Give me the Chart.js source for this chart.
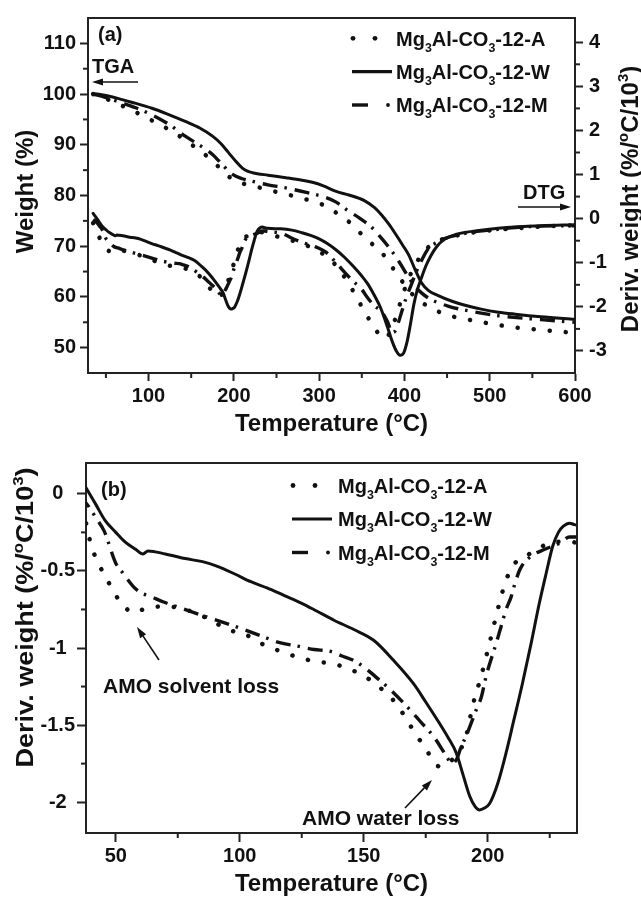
<!DOCTYPE html>
<html><head><meta charset="utf-8">
<script src="https://cdn.jsdelivr.net/npm/chart.js@4.4.1/dist/chart.umd.min.js"></script>
<style>
html,body{margin:0;padding:0;background:#fff;width:641px;height:899px;overflow:hidden}
.box{position:absolute;left:0;width:641px}
</style></head><body>
<div class="box" style="top:0;height:440px"><canvas id="chartA"></canvas></div>
<div class="box" style="top:440px;height:459px"><canvas id="chartB"></canvas></div>
<script>
// ---------------- DATA ----------------
const seriesNames = ['Mg3Al-CO3-12-A', 'Mg3Al-CO3-12-W', 'Mg3Al-CO3-12-M'];

// TGA weight (%) vs temperature (°C)
const tgaA = [[35,100],[50,99.1],[65,98],[84,96.5],[105,94.7],[128,92.6],[150,90.1],[171,87.4],[185,85.2],[196,83.5],[210,82.4],[229,81.6],[250,80.7],[277,79.6],[295,78.7],[308,77.9],[320,76.6],[335,74.8],[349,72.5],[363,70.3],[377,68.0],[386,65.8],[396,63.4],[405,61.3],[416,59.5],[428,58.1],[443,56.9],[460,56.0],[482,55.3],[505,54.6],[529,54.0],[560,53.5],[600,52.9]];
const tgaW = [[35,100.1],[40,100],[50,99.7],[65,99.1],[80,98.4],[104,97.2],[120,96.2],[143,94.6],[160,93.3],[175,91.7],[185,90.2],[194,88.4],[202,86.8],[210,85.4],[216,84.8],[222,84.5],[240,84.0],[261,83.5],[280,83.0],[292,82.6],[305,81.9],[320,80.8],[335,80.1],[353,79.0],[365,77.6],[373,76.2],[382,74.3],[390,72.3],[398,70.2],[405,68.3],[412,65.6],[420,62.8],[428,61.3],[439,60.3],[455,59.2],[470,58.4],[490,57.6],[510,57.0],[530,56.6],[560,56.1],[600,55.6]];
const tgaM = [[35,100],[50,99.3],[70,98.2],[85,97.3],[104,95.9],[125,93.9],[143,91.7],[160,89.9],[175,88.1],[188,85.8],[198,84.2],[210,83.3],[222,82.8],[240,82.1],[261,81.5],[285,80.6],[308,79.6],[320,78.7],[333,77.1],[347,75.6],[361,73.8],[373,71.6],[384,69.3],[395,66.6],[404,64.1],[412,62.2],[420,60.8],[430,59.6],[451,58.2],[480,57.1],[510,56.3],[540,55.8],[570,55.4],[600,55.0]];

// DTG deriv. weight (%/°C/10^3) vs temperature (°C)
const dtgA = [[35,-0.1],[38,-0.19],[40,-0.33],[43.3,-0.46],[47.3,-0.58],[51.3,-0.69],[54,-0.74],[56.7,-0.77],[60,-0.755],[63,-0.74],[70,-0.73],[78,-0.75],[83,-0.78],[88.5,-0.82],[95,-0.88],[102,-0.91],[108.5,-0.97],[118,-1.03],[124.6,-1.065],[131.3,-1.09],[137.3,-1.10],[143,-1.13],[150,-1.18],[156,-1.25],[162,-1.34],[166,-1.43],[170.6,-1.55],[175.3,-1.66],[178.6,-1.75],[181,-1.77],[184,-1.75],[187,-1.7],[189.3,-1.65],[191.3,-1.57],[194,-1.37],[197.4,-1.18],[200.7,-0.97],[204.7,-0.71],[207.4,-0.56],[211.5,-0.44],[216.8,-0.39],[222,-0.34],[228,-0.31],[233,-0.31],[238,-0.33],[250,-0.40],[265,-0.48],[280,-0.56],[296,-0.71],[312,-0.9],[322,-1.12],[333,-1.42],[343,-1.75],[353,-2.1],[365,-2.48],[372,-2.66],[377,-2.72],[382,-2.62],[387,-2.4],[392,-2.1],[397,-1.8],[403,-1.45],[410,-1.15],[420,-0.82],[431,-0.6],[447,-0.45],[462,-0.38],[485,-0.3],[510,-0.25],[530,-0.22],[560,-0.18],[600,-0.15]];
const dtgW = [[35,0.12],[38,0.04],[42,-0.07],[45.6,-0.17],[50,-0.25],[53.6,-0.31],[58,-0.36],[61,-0.39],[63,-0.37],[70,-0.39],[78,-0.42],[85,-0.44],[91,-0.47],[98,-0.52],[104.5,-0.57],[111,-0.61],[118,-0.66],[125,-0.71],[131,-0.76],[138,-0.82],[146,-0.88],[154,-0.95],[162,-1.08],[170,-1.23],[175,-1.35],[180.6,-1.49],[184,-1.58],[187.3,-1.68],[190,-1.82],[192.7,-1.96],[195,-2.03],[196.7,-2.05],[198.5,-2.04],[200.7,-2.01],[204,-1.88],[207.4,-1.68],[210.5,-1.47],[214,-1.23],[217.5,-0.97],[220.8,-0.71],[223.5,-0.52],[226.2,-0.34],[228.5,-0.25],[230.5,-0.21],[233,-0.19],[235,-0.2],[240,-0.22],[255,-0.23],[268,-0.26],[280,-0.32],[290,-0.38],[300,-0.46],[310,-0.57],[320,-0.71],[330,-0.88],[340,-1.08],[350,-1.3],[357,-1.48],[365,-1.75],[372,-2.02],[380,-2.45],[386,-2.8],[391,-3.02],[395,-3.1],[399,-3.05],[403,-2.8],[407,-2.4],[411,-1.95],[415,-1.62],[420,-1.34],[425,-1.08],[431,-0.84],[438,-0.63],[447,-0.47],[460,-0.36],[475,-0.3],[490,-0.26],[510,-0.22],[530,-0.19],[560,-0.16],[600,-0.14]];
const dtgM = [[35,-0.02],[38,-0.06],[42.6,-0.17],[45.3,-0.24],[50,-0.45],[52.7,-0.51],[57,-0.6],[60,-0.64],[64,-0.665],[69,-0.70],[76,-0.74],[87,-0.8],[100,-0.87],[110,-0.93],[115,-0.96],[124,-0.99],[130,-1.01],[136,-1.02],[141,-1.05],[147,-1.09],[156.5,-1.21],[162,-1.29],[168.6,-1.4],[173,-1.48],[178,-1.57],[183.3,-1.70],[185.5,-1.75],[187.5,-1.72],[189.3,-1.64],[191.3,-1.57],[195.4,-1.40],[197.4,-1.32],[199.4,-1.18],[203.4,-0.97],[205.4,-0.86],[207.4,-0.75],[209.4,-0.67],[211,-0.58],[213,-0.49],[217,-0.41],[223,-0.36],[229,-0.32],[233,-0.28],[236,-0.28],[240,-0.29],[257,-0.34],[269,-0.45],[282,-0.55],[296,-0.64],[308,-0.76],[320,-1.0],[331,-1.24],[340,-1.42],[349,-1.58],[357,-1.8],[365,-1.98],[373,-2.1],[380,-2.33],[386,-2.58],[389,-2.55],[393,-2.35],[397,-2.1],[402,-1.8],[408,-1.5],[414,-1.2],[420,-0.95],[428,-0.68],[437,-0.55],[447,-0.45],[462,-0.37],[485,-0.29],[510,-0.24],[530,-0.2],[560,-0.17],[600,-0.16]];

// tick values
const tempTicksA = [100, 200, 300, 400, 500, 600];
const tempMinorA = [50, 150, 250, 350, 450, 550];
const weightTicks = [50, 60, 70, 80, 90, 100, 110];
const weightMinor = [55, 65, 75, 85, 95, 105];
const derivTicksA = [-3, -2, -1, 0, 1, 2, 3, 4];
const derivMinorA = [-2.5, -1.5, -0.5, 0.5, 1.5, 2.5, 3.5];
const tempTicksB = [50, 100, 150, 200];
const tempMinorB = [75, 125, 175, 225];
const derivTicksB = [-2, -1.5, -1, -0.5, 0];
const derivMinorB = [-1.75, -1.25, -0.75, -0.25];

// ---------------- STYLE ----------------
const FONT = '"Liberation Sans", Arial, Helvetica, sans-serif';
const INK = '#111';
Chart.defaults.font.family = FONT;
Chart.defaults.color = INK;

const lineStyles = [
  {borderDash: [0.1, 16], borderWidth: 4.5, borderCapStyle: 'round'},    // A dotted
  {borderDash: [], borderWidth: 3, borderCapStyle: 'round'},             // W solid
  {borderDash: [15, 7, 2.5, 8], borderWidth: 3.4, borderCapStyle: 'butt'} // M dash-dot
];

function ds(arr, idx, axis) {
  return Object.assign({
    label: seriesNames[idx],
    data: arr.map(p => ({x: p[0], y: p[1]})),
    borderColor: INK, backgroundColor: INK,
    pointRadius: 0, fill: false,
    cubicInterpolationMode: 'monotone',
    yAxisID: axis
  }, lineStyles[idx]);
}

function setTicks(vals) { return s => { s.ticks = vals.map(v => ({value: v})); }; }
const tickFont = {size: 20, weight: 'bold'};
function axisGrid(len) { return {drawOnChartArea: false, drawTicks: true, tickLength: len, tickWidth: 2, tickColor: '#222'}; }
const axisBorder = {color: '#222', width: 2};

// ---------------- DRAW HELPERS ----------------
function richSegs(str) {
  const segs = [];
  for (let i = 0; i < str.length; i++) {
    const ch = str[i];
    const sub = /\d/.test(ch) && i > 0 && /[gO]/.test(str[i - 1]);
    const last = segs[segs.length - 1];
    if (last && !!last.sub === sub) last.t += ch; else segs.push({t: ch, sub});
  }
  return segs;
}
function segFont(s, size) { return `bold ${(s.sub || s.sup) ? size * 0.62 : size}px ${FONT}`; }
function richWidth(ctx, segs, size) {
  let w = 0;
  for (const s of segs) { ctx.font = segFont(s, size); w += ctx.measureText(s.t).width; }
  return w;
}
function drawRich(ctx, segs, x, y, size) {
  let cx = x;
  ctx.textAlign = 'left'; ctx.textBaseline = 'alphabetic';
  for (const s of segs) {
    ctx.font = segFont(s, size);
    const dy = s.sub ? size * 0.3 : s.sup ? -size * 0.42 : 0;
    ctx.fillText(s.t, cx, y + dy);
    cx += ctx.measureText(s.t).width;
  }
}
function drawVertTitle(ctx, segs, cx, cy, size, len) {
  const w = richWidth(ctx, segs, size);
  const k = len ? len / w : 1;
  ctx.save();
  ctx.translate(cx, cy);
  ctx.rotate(-Math.PI / 2);
  ctx.scale(k, 1);
  drawRich(ctx, segs, -w / 2, size * 0.36, size);
  ctx.restore();
}
function seg(ctx, x1, y1, x2, y2) { ctx.beginPath(); ctx.moveTo(x1, y1); ctx.lineTo(x2, y2); ctx.stroke(); }
function arrow(ctx, x1, y1, x2, y2) {
  ctx.save();
  ctx.lineWidth = 1.6; ctx.strokeStyle = INK; ctx.fillStyle = INK; ctx.setLineDash([]);
  const a = Math.atan2(y2 - y1, x2 - x1), L = 11, H = 3.6;
  const bx = x2 - L * Math.cos(a), by = y2 - L * Math.sin(a);
  seg(ctx, x1, y1, bx, by);
  ctx.beginPath();
  ctx.moveTo(x2, y2);
  ctx.lineTo(bx + H * Math.sin(a), by - H * Math.cos(a));
  ctx.lineTo(bx - H * Math.sin(a), by + H * Math.cos(a));
  ctx.closePath(); ctx.fill();
  ctx.restore();
}
function minorTicks(ctx, scale, vals, side, ca) {
  for (const v of vals) {
    const p = scale.getPixelForValue(v);
    if (side === 'bottom') seg(ctx, p, ca.bottom, p, ca.bottom + 5);
    else if (side === 'left') seg(ctx, ca.left, p, ca.left - 5, p);
    else seg(ctx, ca.right, p, ca.right + 5, p);
  }
}
function legendSample(ctx, idx, x0, y) {
  ctx.save(); ctx.strokeStyle = INK; ctx.fillStyle = INK;
  if (idx === 0) {
    for (const dx of [1, 23]) { ctx.beginPath(); ctx.arc(x0 + dx, y, 2.4, 0, Math.PI * 2); ctx.fill(); }
  } else if (idx === 1) {
    ctx.lineWidth = 3.2; seg(ctx, x0, y, x0 + 40, y);
  } else {
    ctx.lineWidth = 3.4; seg(ctx, x0, y, x0 + 16, y);
    ctx.beginPath(); ctx.arc(x0 + 36, y, 1.9, 0, Math.PI * 2); ctx.fill();
  }
  ctx.restore();
}
function drawLegend(ctx, x0, textX, rows) {
  rows.forEach((y, i) => {
    legendSample(ctx, i, x0, y);
    ctx.fillStyle = INK;
    drawRich(ctx, richSegs(seriesNames[i]), textX, y + 7.2, 20);
  });
}
function label(ctx, txt, x, yc, size) {
  ctx.fillStyle = INK; ctx.font = `bold ${size}px ${FONT}`;
  ctx.textAlign = 'left'; ctx.textBaseline = 'alphabetic';
  ctx.fillText(txt, x, yc + size * 0.36);
}
const derivTitle = [{t: 'Deriv. weight (%/'}, {t: 'o', sup: true}, {t: 'C/10'}, {t: '3', sup: true}, {t: ')'}];
const weightTitle = [{t: 'Weight (%)'}];

// ---------------- CHART (a) ----------------
const decorA = {
  id: 'decorA',
  afterDraw(chart) {
    const ctx = chart.ctx, ca = chart.chartArea, s = chart.scales;
    ctx.save();
    ctx.strokeStyle = '#222'; ctx.lineWidth = 2;
    seg(ctx, ca.left - 1, ca.top, ca.right + 1, ca.top);
    minorTicks(ctx, s.x, tempMinorA, 'bottom', ca);
    minorTicks(ctx, s.y, weightMinor, 'left', ca);
    minorTicks(ctx, s.y2, derivMinorA, 'right', ca);
    ctx.fillStyle = INK;
    drawVertTitle(ctx, weightTitle, 24, 191.5, 24, 0);
    drawVertTitle(ctx, derivTitle, 629, 199, 24, 0);
    drawLegend(ctx, 352, 396, [38.3, 71.7, 105]);
    label(ctx, '(a)', 98, 33.5, 20);
    label(ctx, 'TGA', 92, 66, 20);
    arrow(ctx, 138, 82, 92, 82);
    label(ctx, 'DTG', 523, 191.5, 20);
    arrow(ctx, 518, 207, 571, 207);
    ctx.restore();
  }
};

new Chart(document.getElementById('chartA'), {
  type: 'line',
  data: {datasets: [ds(tgaA, 0, 'y'), ds(tgaW, 1, 'y'), ds(tgaM, 2, 'y'), ds(dtgA, 0, 'y2'), ds(dtgW, 1, 'y2'), ds(dtgM, 2, 'y2')]},
  options: {
    responsive: true, maintainAspectRatio: false, animation: false, devicePixelRatio: 1,
    layout: {padding: {top: 15, left: 0, right: 0, bottom: 0}},
    plugins: {legend: {display: false}, tooltip: {enabled: false}},
    scales: {
      x: {type: 'linear', position: 'bottom', min: 29, max: 600,
        afterBuildTicks: setTicks(tempTicksA), afterFit: s => { s.height = 67; },
        ticks: {font: tickFont, color: INK, padding: 3, maxRotation: 0, autoSkip: false, callback: v => String(v)},
        grid: axisGrid(8), border: axisBorder,
        title: {display: true, text: 'Temperature (°C)', font: {size: 24, weight: 'bold'}, color: INK, padding: {top: 0, bottom: 1}}},
      y: {type: 'linear', position: 'left', min: 45, max: 115,
        afterBuildTicks: setTicks(weightTicks), afterFit: s => { s.width = 88; },
        ticks: {font: tickFont, color: INK, padding: 4, autoSkip: false, callback: v => String(v)},
        grid: axisGrid(8), border: axisBorder},
      y2: {type: 'linear', position: 'right', min: -3.5, max: 4.55,
        afterBuildTicks: setTicks(derivTicksA), afterFit: s => { s.width = 66; },
        ticks: {font: tickFont, color: INK, padding: 6, autoSkip: false, callback: v => String(v)},
        grid: axisGrid(8), border: axisBorder}
    }
  },
  plugins: [decorA]
});

// ---------------- CHART (b) ----------------
const decorB = {
  id: 'decorB',
  afterDraw(chart) {
    const ctx = chart.ctx, ca = chart.chartArea, s = chart.scales;
    ctx.save();
    ctx.strokeStyle = '#222'; ctx.lineWidth = 2;
    seg(ctx, ca.left - 1, ca.top, ca.right + 1, ca.top);
    seg(ctx, ca.right, ca.top - 1, ca.right, ca.bottom + 1);
    minorTicks(ctx, s.x, tempMinorB, 'bottom', ca);
    minorTicks(ctx, s.y, derivMinorB, 'left', ca);
    ctx.fillStyle = INK;
    drawVertTitle(ctx, derivTitle, 24, 177.5, 24, 300);
    drawLegend(ctx, 292, 338, [45.5, 79, 112.5]);
    label(ctx, '(b)', 101, 48.5, 20);
    label(ctx, 'AMO solvent loss', 103, 245.5, 21);
    arrow(ctx, 159, 220, 137, 187);
    label(ctx, 'AMO water loss', 302, 377, 21);
    arrow(ctx, 405, 368, 432, 340);
    ctx.restore();
  }
};

new Chart(document.getElementById('chartB'), {
  type: 'line',
  data: {datasets: [ds(dtgA, 0, 'y'), ds(dtgW, 1, 'y'), ds(dtgM, 2, 'y')]},
  options: {
    responsive: true, maintainAspectRatio: false, animation: false, devicePixelRatio: 1,
    layout: {padding: {top: 23, left: 0, right: 64, bottom: 0}},
    plugins: {legend: {display: false}, tooltip: {enabled: false}},
    scales: {
      x: {type: 'linear', position: 'bottom', min: 38, max: 236,
        afterBuildTicks: setTicks(tempTicksB), afterFit: s => { s.height = 66; },
        ticks: {font: tickFont, color: INK, padding: 2, maxRotation: 0, autoSkip: false, callback: v => String(v)},
        grid: axisGrid(9), border: axisBorder,
        title: {display: true, text: 'Temperature (°C)', font: {size: 24, weight: 'bold'}, color: INK, padding: {top: 0, bottom: 0}}},
      y: {type: 'linear', position: 'left', min: -2.2, max: 0.2,
        afterBuildTicks: setTicks(derivTicksB), afterFit: s => { s.width = 86; },
        ticks: {font: tickFont, color: INK, padding: 2, crossAlign: 'center', autoSkip: false, callback: v => String(v)},
        grid: axisGrid(9), border: axisBorder}
    }
  },
  plugins: [decorB]
});
</script>
</body></html>
